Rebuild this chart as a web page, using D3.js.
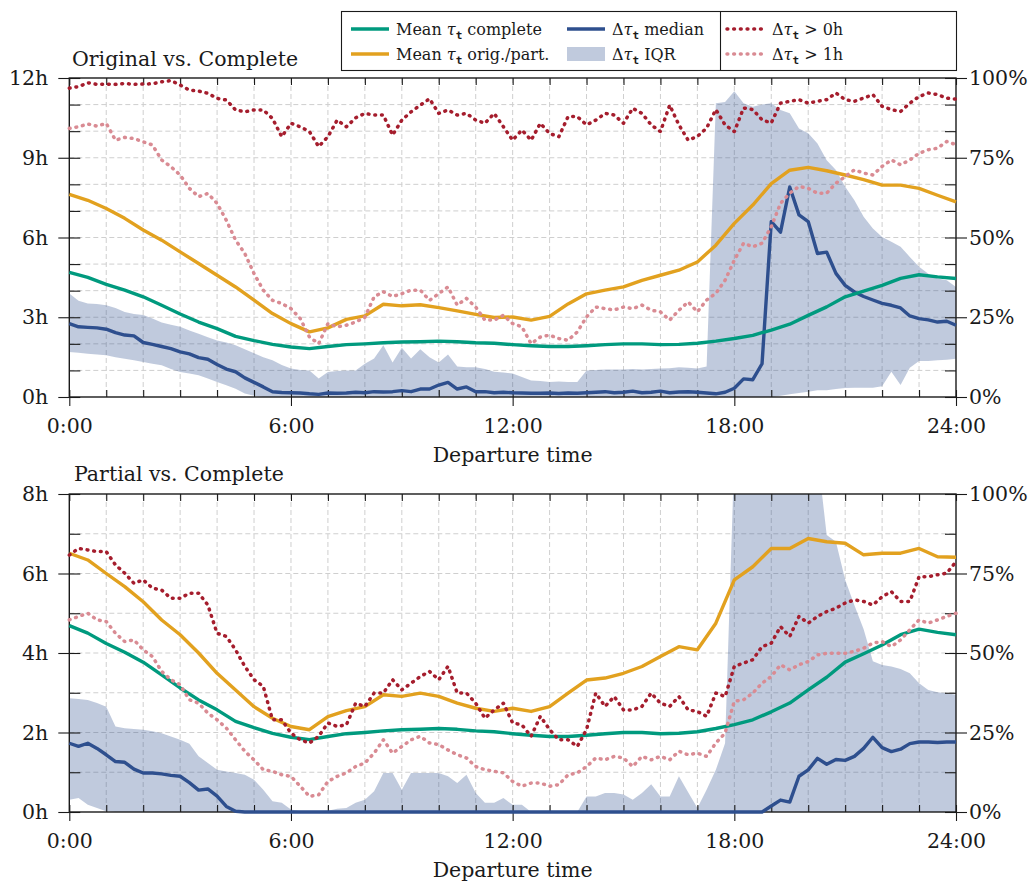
<!DOCTYPE html>
<html>
<head>
<meta charset="utf-8">
<script src="https://cdn.jsdelivr.net/npm/d3@7"></script>
<style>
  body { margin: 0; background: #fff; }
  svg { display: block; }
</style>
</head>
<body>
<svg id="chart" width="1029" height="884"></svg>
<script>
// ---- axis ticks and labels ----
const hourTicks = [0, 6, 12, 18, 24];
const hourTickLabels = ["0:00", "6:00", "12:00", "18:00", "24:00"];
const topDelayTicks = [0, 3, 6, 9, 12];
const bottomDelayTicks = [0, 2, 4, 6, 8];
const shareTicks = [0, 25, 50, 75, 100];

// ---- mean travel times (hours), one value every 30 minutes, 0:00 .. 24:00 ----
const meanComplete = [
  4.69, 4.5, 4.24, 4.02, 3.77, 3.45, 3.12, 2.82, 2.57, 2.28, 2.12, 1.98,
  1.88, 1.82, 1.9, 1.97, 2.0, 2.04, 2.07, 2.08, 2.1, 2.08, 2.04, 2.02,
  1.97, 1.93, 1.9, 1.9, 1.93, 1.97, 2.0, 2.0, 1.97, 1.98, 2.02, 2.1,
  2.2, 2.32, 2.52, 2.74, 3.07, 3.39, 3.77, 3.98, 4.2, 4.46, 4.6, 4.52, 4.46
];
const meanOriginal = [
  7.62, 7.4, 7.09, 6.72, 6.28, 5.9, 5.46, 5.02, 4.58, 4.14, 3.64, 3.14,
  2.76, 2.45, 2.6, 2.92, 3.05, 3.49, 3.43, 3.47, 3.36, 3.24, 3.11, 2.99,
  3.01, 2.89, 3.03, 3.5, 3.88, 4.02, 4.14, 4.39, 4.58, 4.77, 5.08, 5.71,
  6.53, 7.22, 8.03, 8.53, 8.64, 8.51, 8.35, 8.18, 7.97, 7.97, 7.85, 7.59, 7.34
];
const meanPartial = [
  6.51, 6.34, 6.0, 5.67, 5.29, 4.83, 4.46, 4.0, 3.49, 3.07, 2.65, 2.36,
  2.15, 2.07, 2.4, 2.55, 2.65, 2.95, 2.91, 2.99, 2.91, 2.74, 2.61, 2.53,
  2.61, 2.53, 2.65, 2.99, 3.32, 3.37, 3.49, 3.66, 3.91, 4.16, 4.08, 4.75,
  5.84, 6.17, 6.63, 6.63, 6.88, 6.8, 6.76, 6.47, 6.51, 6.51, 6.63, 6.42, 6.41
];

// ---- original vs. complete, one value every 15 minutes ----
const medianOriginal = [
  2.76, 2.64, 2.62, 2.6,   2.55, 2.42, 2.33, 2.3,   2.05, 1.98, 1.9, 1.82,
  1.7, 1.62, 1.48, 1.42,   1.22, 1.05, 0.95, 0.72,  0.55, 0.38, 0.2, 0.17,
  0.16, 0.15, 0.12, 0.1,   0.15, 0.14, 0.15, 0.18,  0.16, 0.2, 0.19, 0.2,
  0.24, 0.2, 0.3, 0.3,     0.45, 0.55, 0.3, 0.38,   0.2, 0.2, 0.16, 0.18,
  0.16, 0.15, 0.14, 0.14,  0.15, 0.13, 0.15, 0.14,  0.16, 0.18, 0.2, 0.16,
  0.18, 0.22, 0.16, 0.18,  0.22, 0.16, 0.19, 0.2,   0.18, 0.15, 0.12, 0.18,
  0.33, 0.68, 0.65, 1.25,  6.6, 6.2, 7.9, 6.85,     6.6, 5.4, 5.45, 4.65,
  4.2, 3.95, 3.78, 3.65,   3.52, 3.45, 3.35, 3.05,  2.95, 2.9, 2.82, 2.85,
  2.7
];
const iqrLowOriginal = [
  1.69, 1.66, 1.63, 1.6,   1.57, 1.5, 1.44, 1.38,   1.32, 1.25, 1.19, 1.05,
  0.94, 0.88, 0.82, 0.7,   0.56, 0.44, 0.31, 0.13,  0.05, 0, 0, 0,
  0, 0, 0, 0,   0, 0, 0, 0,   0, 0, 0, 0,   0, 0, 0, 0,
  0, 0, 0, 0,   0, 0, 0, 0,   0, 0, 0, 0,   0, 0, 0, 0,
  0, 0, 0, 0,   0, 0, 0, 0,   0, 0, 0, 0,   0, 0, 0, 0,
  0, 0, 0, 0,   0, 0.05, 0.1, 0.15,   0.2, 0.25, 0.25, 0.3,
  0.34, 0.35, 0.35, 0.35,  0.4, 0.95, 0.45, 1.1,    1.35, 1.35, 1.38, 1.4,
  1.44
];
const iqrHighOriginal = [
  3.89, 3.62, 3.52, 3.5,   3.45, 3.35, 3.2, 3.12,   3.08, 2.95, 2.8, 2.72,
  2.64, 2.5, 2.38, 2.25,   2.13, 2.05, 1.95, 1.8,   1.65, 1.5, 1.38, 1.2,
  1.07, 1.02, 1.0, 0.7,    0.94, 0.98, 1.0, 1.0,    1.25, 1.45, 1.95, 1.3,
  1.85, 1.45, 1.8, 1.5,    1.3, 1.6, 1.15, 1.12,    1.12, 1.05, 0.95, 0.92,
  0.88, 0.75, 0.62, 0.6,   0.56, 0.58, 0.56, 0.56,  1.0, 1.02, 1.03, 1.03,
  1.03, 1.05, 1.03, 1.05,  1.07, 1.08, 1.12, 1.1,   1.07, 1.15, 11.05, 11.1,
  11.5, 11.05, 10.92, 11.0, 11.05, 10.8, 10.67, 10.1, 9.92, 9.54, 8.91, 8.54,
  7.91, 7.4, 6.78, 6.34,   6.02, 5.84, 5.65, 5.27,  4.9, 4.64, 4.46, 4.39,
  4.14
];
// shares in percent
const above0Original = [
  96.8, 97.3, 98.5, 98.0,  98.1, 98.0, 98.3, 98.0,  98.1, 98.2, 98.8, 99.2,
  97.8, 96.2, 95.9, 95.2,  93.6, 93.1, 90.0, 89.4,  90.0, 90.0, 87.3, 81.6,
  85.8, 84.7, 83.2, 78.5,  81.6, 86.8, 84.7, 87.5,  88.9, 88.4, 88.4, 82.1,
  86.8, 89.4, 91.5, 93.5,  88.9, 90.0, 88.4, 88.9,  86.8, 85.8, 88.9, 84.7,
  80.5, 83.7, 80.5, 85.8,  82.6, 81.6, 87.9, 87.9,  85.3, 86.8, 88.9, 88.4,
  85.8, 90.5, 88.9, 85.3,  83.2, 91.5, 85.3, 80.5,  81.7, 84.3, 90.1, 85.3,
  83.2, 90.6, 90.1, 86.9,  85.9, 92.1, 92.7, 93.2,  92.1, 92.7, 93.2, 95.3,
  93.2, 92.7, 93.7, 94.8,  91.1, 90.1, 89.5, 92.1,  94.2, 95.3, 94.8, 93.7,
  93.4
];
const above1Original = [
  84.2, 84.7, 85.6, 84.9,  85.8, 80.5, 81.4, 81.0,  80.0, 79.0, 74.3, 72.2,
  69.6, 65.4, 62.8, 63.8,  60.7, 55.4, 49.2, 45.0,  38.7, 33.5, 30.3, 29.3,
  27.7, 24.6, 18.8, 16.7,  23.0, 22.0, 22.5, 23.5,  25.0, 31.4, 33.0, 31.5,
  32.4, 33.5, 33.5, 30.3,  32.4, 34.5, 28.8, 30.9,  28.2, 24.1, 24.1, 25.6,
  23.0, 22.0, 16.7, 18.8,  19.4, 18.3, 17.8, 20.4,  25.1, 28.2, 27.7, 27.3,
  28.2, 27.7, 28.8, 27.2,  26.7, 24.1, 27.2, 29.8,  26.7, 30.4, 32.5, 36.6,
  42.9, 48.2, 47.1, 48.2,  53.4, 60.7, 63.9, 66.0,  65.4, 63.9, 63.9, 67.0,
  69.1, 71.2, 70.2, 69.6,  72.3, 74.3, 72.8, 74.3,  76.4, 77.5, 78.0, 80.1,
  79.1
];

// ---- partial vs. complete, one value every 15 minutes ----
const medianPartial = [
  1.73, 1.65, 1.73, 1.6,   1.44, 1.27, 1.25, 1.08,  0.98, 0.98, 0.96, 0.92,
  0.9, 0.74, 0.55, 0.58,   0.4, 0.14, 0.02, 0,      0, 0, 0, 0,
  0, 0, 0, 0,   0, 0, 0, 0,   0, 0, 0, 0,   0, 0, 0, 0,
  0, 0, 0, 0,   0, 0, 0, 0,   0, 0, 0, 0,   0, 0, 0, 0,
  0, 0, 0, 0,   0, 0, 0, 0,   0, 0, 0, 0,   0, 0, 0, 0,
  0, 0, 0, 0,   0.15, 0.3, 0.25, 0.9,   1.06, 1.35, 1.2, 1.32,
  1.3, 1.4, 1.6, 1.88,     1.62, 1.52, 1.58, 1.72,  1.76, 1.76, 1.75, 1.76,
  1.76
];
const iqrLowPartial = [
  0.31, 0.35, 0.18, 0.1,   0.02, 0, 0, 0,   0, 0, 0, 0,
  0, 0, 0, 0,   0, 0, 0, 0,   0, 0, 0, 0,
  0, 0, 0, 0,   0, 0, 0, 0,   0, 0, 0, 0,
  0, 0, 0, 0,   0, 0, 0, 0,   0, 0, 0, 0,
  0, 0, 0, 0,   0, 0, 0, 0,   0, 0, 0, 0,
  0, 0, 0, 0,   0, 0, 0, 0,   0, 0, 0, 0,
  0, 0, 0, 0,   0, 0, 0, 0,   0, 0, 0, 0,
  0, 0, 0, 0,   0, 0, 0, 0,   0, 0, 0, 0,
  0
];
const iqrHighPartial = [
  2.86, 2.84, 2.82, 2.74,  2.65, 2.15, 2.11, 2.09,  2.07, 2.03, 1.98, 1.9,
  1.82, 1.72, 1.4, 1.23,   1.06, 1.02, 0.98, 0.94,  0.81, 0.56, 0.27, 0.23,
  0.06, 0.02, 0, 0.02,     0.03, 0.08, 0.1, 0.23,   0.31, 0.52, 0.98, 0.98,
  0.56, 0.98, 0.98, 0.98,  0.98, 0.9, 0.73, 0.94,   0.48, 0.23, 0.23, 0.35,
  0.18, 0.18, 0, 0,        0, 0, 0, 0,              0.39, 0.39, 0.48, 0.48,
  0.44, 0.31, 0.48, 0.7,   0.39, 0.39, 0.9, 0.5,    0.1, 0.56, 1.06, 1.73,
  9, 9, 9, 9,              9, 9, 9, 9,              9, 9, 6.97, 6.8,
  5.84, 5.2, 4.6, 3.79,    3.7, 3.66, 3.6, 3.49,    3.24, 3.07, 3.01, 2.99,
  2.95
];
const above0Partial = [
  80.8, 82.9, 82.4, 81.9,  81.9, 77.7, 75.1, 71.9,  73.0, 70.4, 69.8, 67.2,
  67.2, 68.8, 68.8, 65.1,  56.2, 55.2, 51.0, 45.8,  41.6, 39.5, 29.0, 29.0,
  24.8, 22.7, 21.7, 23.8,  28.0, 26.9, 27.4, 34.2,  33.2, 37.4, 37.4, 41.6,
  38.4, 40.5, 42.6, 44.2,  41.6, 45.8, 37.4, 37.4,  34.2, 29.5, 32.1, 34.2,
  28.0, 27.4, 23.8, 30.1,  25.9, 22.7, 22.7, 20.6,  25.9, 37.4, 33.2, 36.3,
  32.1, 32.1, 33.2, 37.4,  34.2, 33.2, 36.3, 32.1,  31.6, 30.1, 37.4, 36.3,
  45.8, 46.8, 47.9, 52.0,  53.1, 58.3, 55.2, 61.5,  59.4, 61.5, 63.0, 64.1,
  65.7, 66.7, 66.2, 65.1,  67.7, 69.3, 66.2, 66.2,  74.0, 74.0, 74.6, 75.1,
  78.7
];
const above1Partial = [
  60.4, 61.5, 62.5, 60.4,  59.9, 56.2, 53.6, 54.1,  51.0, 48.9, 44.2, 41.6,
  40.0, 35.3, 34.2, 31.1,  29.0, 26.4, 22.7, 19.1,  16.4, 13.3, 12.8, 11.7,
  11.2, 8.1, 4.9, 5.4,     9.6, 11.2, 12.3, 14.3,   15.4, 18.5, 22.7, 18.5,
  20.6, 22.7, 23.8, 21.7,  21.2, 19.5, 18.0, 17.0,  14.3, 13.3, 12.8, 12.3,
  9.6, 8.1, 9.1, 9.1,      8.1, 8.6, 11.7, 12.3,    14.3, 17.0, 16.4, 17.5,
  17.0, 14.3, 17.5, 16.4,  17.5, 16.4, 19.1, 18.0,  18.5, 17.5, 21.7, 24.8,
  34.8, 35.3, 37.4, 40.5,  42.6, 46.3, 44.7, 46.3,  47.3, 49.4, 49.9, 49.9,
  49.9, 50.5, 51.5, 53.1,  53.6, 52.0, 54.1, 57.3,  60.4, 59.4, 60.4, 61.5,
  62.5
];

// ---- styling ----
const COLORS = {
  complete: "#009a7e",
  orig: "#e2a11f",
  median: "#2e4f8e",
  above0: "#a51d2d",
  above1: "#d98b93"
};
const SERIF = "'DejaVu Serif', serif";
const L = 69.3, R = 956;

const svg = d3.select("#chart");
const x = d3.scaleLinear().domain([0, 24]).range([L, R]);

// index -> hour of day for the two sampling rates
const halfHourly = arr => arr.map((v, i) => [i * 0.5, v]);
const quarterHourly = arr => arr.map((v, i) => [i * 0.25, v]);

function drawPanel(cfg) {
  const g = svg.append("g");
  const y = d3.scaleLinear().domain([0, cfg.maxHours]).range([cfg.bottom, cfg.top]);
  const yShare = d3.scaleLinear().domain([0, 100]).range([cfg.bottom, cfg.top]);

  // dashed grid: every hour in both directions
  const grid = g.append("g").attr("stroke", "#cfcfcf").attr("stroke-width", 1)
    .attr("stroke-dasharray", "5 3");
  grid.selectAll("line.v").data(d3.range(1, 24)).join("line")
    .attr("x1", d => x(d)).attr("x2", d => x(d))
    .attr("y1", cfg.top).attr("y2", cfg.bottom);
  grid.selectAll("line.h").data(d3.range(1, cfg.maxHours)).join("line")
    .attr("x1", L).attr("x2", R)
    .attr("y1", d => y(d)).attr("y2", d => y(d));

  const clipId = "clip-" + cfg.id;
  g.append("clipPath").attr("id", clipId).append("rect")
    .attr("x", L - 3).attr("y", cfg.top)
    .attr("width", R - L + 6).attr("height", cfg.bottom - cfg.top + 4);

  // interquartile band
  const band = cfg.iqrHigh.map((v, i) => ({ h: i * 0.25, lo: cfg.iqrLow[i] ?? 0, hi: v }));
  g.append("path").datum(band)
    .attr("clip-path", `url(#${clipId})`)
    .attr("fill", COLORS.median).attr("fill-opacity", 0.3)
    .attr("d", d3.area().x(d => x(d.h)).y0(d => y(d.lo)).y1(d => y(d.hi)));

  // axes
  const axisColor = "#1a1a1a";
  const styleAxis = s => {
    s.select(".domain").remove();
    s.attr("color", axisColor).attr("font-family", null).attr("font-size", null);
    s.selectAll("line").attr("stroke-width", 1.1);
    s.selectAll("text").attr("font-family", SERIF).attr("font-size", 20.5).attr("fill", "#1a1a1a");
  };
  g.append("g").attr("transform", `translate(0,${cfg.bottom})`)
    .call(d3.axisBottom(x).tickValues(hourTicks).tickFormat((d, i) => hourTickLabels[i])
      .tickSize(9).tickPadding(12))
    .call(styleAxis);
  g.append("g").attr("transform", `translate(0,${cfg.bottom})`)
    .call(d3.axisTop(x).tickValues(d3.range(0, 25)).tickSize(7).tickFormat(""))
    .call(styleAxis);
  g.append("g").attr("transform", `translate(0,${cfg.top})`)
    .call(d3.axisBottom(x).tickValues(d3.range(0, 25)).tickSize(7).tickFormat(""))
    .call(styleAxis);
  g.append("g").attr("transform", `translate(${L},0)`)
    .call(d3.axisLeft(y).tickValues(cfg.delayTicks).tickFormat(d => d + "h")
      .tickSize(11).tickPadding(10))
    .call(styleAxis);
  g.append("g").attr("transform", `translate(${L},0)`)
    .call(d3.axisRight(y).tickValues(d3.range(0, cfg.maxHours + 1)).tickSize(11).tickFormat(""))
    .call(styleAxis);
  g.append("g").attr("transform", `translate(${R},0)`)
    .call(d3.axisRight(yShare).tickValues(shareTicks).tickFormat(d => d + "%")
      .tickSize(11).tickPadding(2))
    .call(styleAxis);
  g.append("g").attr("transform", `translate(${R},0)`)
    .call(d3.axisLeft(y).tickValues(d3.range(0, cfg.maxHours + 1)).tickSize(11).tickFormat(""))
    .call(styleAxis);

  g.append("rect").attr("x", L).attr("y", cfg.top)
    .attr("width", R - L).attr("height", cfg.bottom - cfg.top)
    .attr("fill", "none").attr("stroke", axisColor).attr("stroke-width", 1.4);

  // series
  const data = g.append("g").attr("clip-path", `url(#${clipId})`)
    .attr("fill", "none").attr("stroke-linejoin", "round");
  const hourLine = d3.line().x(d => x(d[0])).y(d => y(d[1]));
  const shareLine = d3.line().x(d => x(d[0])).y(d => yShare(d[1]));

  data.append("path").datum(quarterHourly(cfg.median))
    .attr("stroke", COLORS.median).attr("stroke-width", 3.4).attr("d", hourLine);
  data.append("path").datum(halfHourly(meanComplete))
    .attr("stroke", COLORS.complete).attr("stroke-width", 3.4).attr("d", hourLine);
  data.append("path").datum(halfHourly(cfg.mean))
    .attr("stroke", COLORS.orig).attr("stroke-width", 3.4).attr("d", hourLine);
  data.append("path").datum(quarterHourly(cfg.above1))
    .attr("stroke", COLORS.above1).attr("stroke-width", 3.5)
    .attr("stroke-dasharray", "0.8 5.9").attr("stroke-linecap", "round").attr("d", shareLine);
  data.append("path").datum(quarterHourly(cfg.above0))
    .attr("stroke", COLORS.above0).attr("stroke-width", 3.5)
    .attr("stroke-dasharray", "0.8 5.9").attr("stroke-linecap", "round").attr("d", shareLine);

  // titles
  g.append("text").attr("x", cfg.titleX).attr("y", cfg.titleY)
    .attr("font-family", SERIF).attr("font-size", 20.5).attr("fill", "#1a1a1a")
    .text(cfg.title);
  g.append("text").attr("x", (L + R) / 2).attr("y", cfg.bottom + 65)
    .attr("text-anchor", "middle")
    .attr("font-family", SERIF).attr("font-size", 20.5).attr("fill", "#1a1a1a")
    .text("Departure time");
}

drawPanel({
  id: "orig", top: 78, bottom: 397, maxHours: 12, delayTicks: topDelayTicks,
  mean: meanOriginal, median: medianOriginal,
  iqrLow: iqrLowOriginal, iqrHigh: iqrHighOriginal,
  above0: above0Original, above1: above1Original,
  title: "Original vs. Complete", titleX: 72, titleY: 66
});
drawPanel({
  id: "part", top: 494, bottom: 812, maxHours: 8, delayTicks: bottomDelayTicks,
  mean: meanPartial, median: medianPartial,
  iqrLow: iqrLowPartial, iqrHigh: iqrHighPartial,
  above0: above0Partial, above1: above1Partial,
  title: "Partial vs. Complete", titleX: 74, titleY: 481
});

// ---- legend ----
const legend = svg.append("g");
legend.append("rect").attr("x", 341.5).attr("y", 11.5).attr("width", 615).attr("height", 59)
  .attr("fill", "#fff").attr("stroke", "#1a1a1a").attr("stroke-width", 1.1);
legend.append("line").attr("x1", 720.5).attr("x2", 720.5).attr("y1", 11.5).attr("y2", 70.5)
  .attr("stroke", "#1a1a1a").attr("stroke-width", 1.1);

const legendItems = [
  { kind: "line", color: COLORS.complete, x: 351, row: 0, pre: "Mean ", post: " complete" },
  { kind: "line", color: COLORS.orig, x: 351, row: 1, pre: "Mean ", post: " orig./part." },
  { kind: "line", color: COLORS.median, x: 567, row: 0, pre: "\u0394", post: " median" },
  { kind: "band", color: COLORS.median, x: 567, row: 1, pre: "\u0394", post: " IQR" },
  { kind: "dots", color: COLORS.above0, x: 727, row: 0, pre: "\u0394", post: " > 0h" },
  { kind: "dots", color: COLORS.above1, x: 727, row: 1, pre: "\u0394", post: " > 1h" }
];
const rowY = [29, 54];
legendItems.forEach(it => {
  const cy = rowY[it.row];
  if (it.kind === "band") {
    legend.append("rect").attr("x", it.x).attr("y", cy - 7).attr("width", 38).attr("height", 14)
      .attr("fill", it.color).attr("fill-opacity", 0.3);
  } else {
    const ln = legend.append("line").attr("x1", it.x).attr("x2", it.x + 38)
      .attr("y1", cy).attr("y2", cy).attr("stroke", it.color)
      .attr("stroke-width", it.kind === "dots" ? 3.5 : 3.4);
    if (it.kind === "dots") ln.attr("stroke-dasharray", "0.8 5.9").attr("stroke-linecap", "round");
  }
  const t = legend.append("text").attr("x", it.x + 45).attr("y", cy + 6)
    .attr("font-family", SERIF).attr("font-size", 16).attr("fill", "#1a1a1a");
  t.append("tspan").text(it.pre);
  t.append("tspan").attr("font-style", "italic").text("\u03c4");
  t.append("tspan").attr("dy", 4).attr("font-size", 11).attr("font-weight", "bold")
    .attr("font-family", "'DejaVu Sans Mono', monospace").text("t");
  t.append("tspan").attr("dy", -4).text(it.post);
});
</script>
</body>
</html>
